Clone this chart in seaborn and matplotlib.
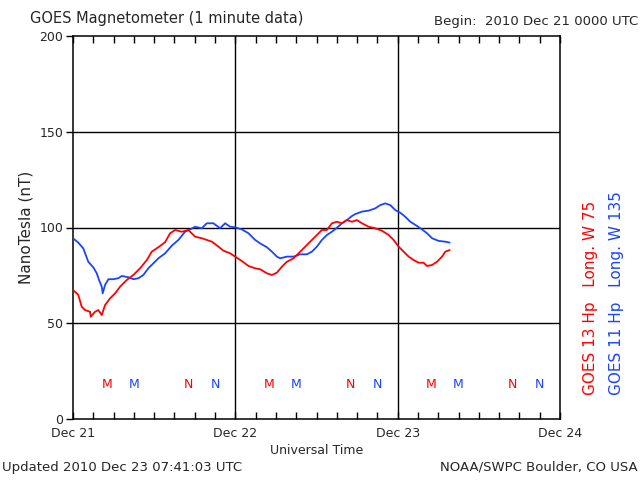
import matplotlib
matplotlib.use("Agg")
import matplotlib.pyplot as plt
import seaborn as sns
import pandas as pd
import numpy as np

# ---- data (hours since 2010 Dec 21 00:00 UT, nT) ----
g11_hours = [0, 0.78, 1.52, 2.26, 3.00, 3.51, 3.89, 4.25, 4.39, 4.74, 5.23, 5.96, 6.70, 7.21,
             8.18, 8.92, 9.66, 10.40, 11.14, 11.88, 12.62, 13.61, 14.61, 15.58, 16.57, 17.31,
             18.05, 19.04, 19.78, 20.76, 21.75, 22.49, 23.23, 23.97, 24.96, 25.94, 26.93, 27.67,
             28.66, 29.40, 30.14, 30.63, 31.62, 32.60, 33.59, 34.58, 35.32, 36.06, 36.80, 37.54,
             38.28, 39.02, 39.76, 40.50, 41.24, 41.73, 42.72, 43.70, 44.69, 45.43, 46.17, 46.91,
             47.65, 48.39, 49.13, 49.87, 50.86, 51.60, 52.34, 53.08, 54.06, 55.05, 55.69]
g11_values = [94.4, 92.1, 89.1, 82.1, 79.2, 76.1, 72.2, 69.1, 65.6, 70.0, 73.0, 73.0, 73.5, 74.7,
              74.0, 73.0, 73.5, 75.2, 78.7, 81.3, 83.9, 86.5, 90.5, 93.5, 97.8, 99.0,
              100.4, 99.6, 102.2, 102.2, 99.6, 102.2, 100.4, 100.1, 99.0, 97.0, 93.5, 91.7,
              89.7, 87.4, 84.8, 83.9, 84.8, 84.8, 86.0, 86.0, 87.4, 90.0, 93.5, 96.1,
              97.8, 99.9, 102.2, 103.9, 106.0, 107.0, 108.3, 108.8, 110.0, 111.7, 112.6, 111.7,
              109.1, 107.7, 105.6, 103.0, 100.8, 99.0, 97.0, 94.4, 93.0, 92.6, 92.1]

g13_hours = [0, 0.78, 1.29, 1.78, 2.52, 2.62, 3.26, 3.74, 4.25, 4.74, 5.48, 6.22, 6.96, 7.95,
             8.92, 9.92, 10.91, 11.65, 12.62, 13.61, 14.36, 15.10, 16.09, 17.06, 18.05, 19.04,
             19.78, 20.53, 21.50, 22.24, 23.23, 23.97, 24.96, 25.94, 26.93, 27.67, 28.66, 29.40,
             30.14, 30.88, 31.62, 32.60, 33.34, 34.08, 35.07, 36.06, 36.80, 37.54, 38.28, 39.02,
             39.76, 40.50, 41.24, 41.98, 42.72, 43.70, 44.69, 45.68, 46.66, 47.40, 48.14, 48.88,
             49.62, 50.36, 51.10, 51.84, 52.34, 53.08, 53.82, 54.56, 55.05, 55.69]
g13_values = [67.4, 64.8, 58.6, 56.9, 56.0, 53.4, 56.0, 56.9, 54.3, 59.5, 63.0, 65.6, 69.1, 72.6,
              75.2, 78.7, 83.0, 87.4, 89.7, 92.3, 97.0, 98.7, 97.8, 98.7, 95.2, 94.4,
              93.5, 92.6, 90.0, 87.9, 86.5, 84.8, 82.5, 79.9, 78.7, 78.2, 76.1, 75.2,
              76.4, 79.5, 82.1, 83.9, 86.5, 89.1, 92.6, 96.1, 98.7, 98.7, 102.2, 103.0,
              102.2, 103.9, 103.0, 103.9, 102.2, 100.4, 99.6, 98.3, 96.1, 93.5, 90.0, 87.4,
              84.8, 83.0, 81.6, 81.6, 79.9, 80.4, 82.1, 84.8, 87.4, 88.2]

# local midnight (M) / noon (N) markers, hours UT
g13_M = [5, 29, 53]
g13_N = [17, 41, 65]
g11_M = [9, 33, 57]
g11_N = [21, 45, 69]
marker_level = 17.8

day_labels = ["Dec 21", "Dec 22", "Dec 23", "Dec 24"]
day_ticks = [0, 24, 48, 72]
y_ticks = [0, 50, 100, 150, 200]

RED = "#ff0000"
BLUE = "#1a44ff"

df = pd.concat([
    pd.DataFrame({"hours": g13_hours, "nT": g13_values, "sat": "GOES 13"}),
    pd.DataFrame({"hours": g11_hours, "nT": g11_values, "sat": "GOES 11"}),
])

sns.set_theme(style="white")
plt.rcParams["font.family"] = ["DejaVu Sans"]

fig = plt.figure(figsize=(6.4, 4.8), dpi=100)
ax = fig.add_axes([73 / 640, 1 - 419 / 480, (560 - 73) / 640, (419 - 36) / 480])

for y in [50, 100, 150]:
    ax.axhline(y, color="black", lw=1.0, zorder=1)
for x in [24, 48]:
    ax.axvline(x, color="black", lw=1.0, zorder=1)

sns.lineplot(data=df, x="hours", y="nT", hue="sat",
             palette={"GOES 13": RED, "GOES 11": BLUE},
             hue_order=["GOES 11", "GOES 13"],
             lw=1.3, legend=False, ax=ax, zorder=3, sort=False, estimator=None)

for xs, txt, col in [(g13_M, "M", RED), (g11_M, "M", BLUE), (g13_N, "N", RED), (g11_N, "N", BLUE)]:
    for xv in xs:
        ax.text(xv, marker_level, txt, color=col, fontsize=9, ha="center", va="center")

ax.set_xlim(0, 72)
ax.set_ylim(0, 200)
ax.set_xticks(day_ticks)
ax.set_xticklabels(day_labels, fontsize=9)
ax.set_xticks(np.arange(0, 73, 3), minor=True)
ax.set_yticks(y_ticks)
ax.set_yticklabels([str(v) for v in y_ticks], fontsize=9)
ax.tick_params(axis="x", which="both", direction="in", top=True, bottom=True, length=5,
               width=1, color="black", pad=6)
ax.tick_params(axis="y", which="major", direction="out", left=True, right=False, length=5,
               width=1, color="black", pad=2)
for s in ax.spines.values():
    s.set_color("black")
    s.set_linewidth(1.1)

ax.set_xlabel("Universal Time", fontsize=9, labelpad=3)
ax.set_ylabel("NanoTesla (nT)", fontsize=11, labelpad=4)

fig.text(30 / 640, 1 - 18 / 480, "GOES Magnetometer (1 minute data)", fontsize=10.5,
         ha="left", va="center")
fig.text(638 / 640, 1 - 22 / 480, "Begin:  2010 Dec 21 0000 UTC", fontsize=9.5,
         ha="right", va="center")
fig.text(2 / 640, 1 - 467 / 480, "Updated 2010 Dec 23 07:41:03 UTC", fontsize=9.5,
         ha="left", va="center")
fig.text(638 / 640, 1 - 467 / 480, "NOAA/SWPC Boulder, CO USA", fontsize=9.5,
         ha="right", va="center")
fig.text(591 / 640, 1 - 395 / 480, "GOES 13 Hp   Long. W 75", fontsize=11, color=RED,
         rotation=90, ha="center", va="bottom")
fig.text(617 / 640, 1 - 395 / 480, "GOES 11 Hp   Long. W 135", fontsize=11, color=BLUE,
         rotation=90, ha="center", va="bottom")

fig.savefig("out.png", dpi=100, facecolor="white")
